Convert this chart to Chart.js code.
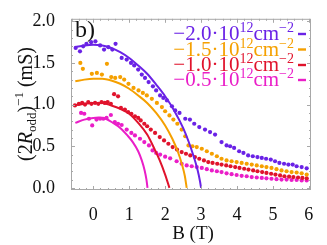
<!DOCTYPE html>
<html><head><meta charset="utf-8">
<script src="https://cdn.jsdelivr.net/npm/chart.js@4/dist/chart.umd.min.js"></script>
<style>html,body{margin:0;padding:0;background:#fff}#w{width:327px;height:245px}</style>
</head><body><div id="w"><canvas id="c" width="327" height="245"></canvas></div>
<script>
const seriesLabels = ['\u22122.0', '\u22121.5', '\u22121.0', '\u22120.5'];
const seriesColors = ['#6a22e6', '#f5a000', '#e0132c', '#ea1ec8'];
const xTickValues = [0, 1, 2, 3, 4, 5, 6];
const yTickValues = [0, 0.5, 1, 1.5, 2];

const dots20 = [[-0.49,1.68],[-0.37,1.64],[-0.28,1.70],[-0.19,1.73],[-0.06,1.75],[0.06,1.76],[0.19,1.71],[0.30,1.66],[0.42,1.69],[0.53,1.66],[0.62,1.73],[0.79,1.56],[0.93,1.54],[1.05,1.50],[1.14,1.47],[1.25,1.42],[1.35,1.36],[1.44,1.32],[1.54,1.27],[1.66,1.22],[1.75,1.17],[1.86,1.11],[1.95,1.08],[2.05,1.05],[2.19,0.98],[2.28,0.93],[2.40,0.90],[2.56,0.83],[2.69,0.82],[2.81,0.77],[2.95,0.73],[3.11,0.70],[3.25,0.67],[3.39,0.64],[3.57,0.55],[3.71,0.51],[3.81,0.50],[3.92,0.48],[4.06,0.44],[4.18,0.42],[4.31,0.39],[4.44,0.38],[4.57,0.37],[4.69,0.36],[4.81,0.35],[4.94,0.34],[5.06,0.32],[5.18,0.30],[5.31,0.29],[5.43,0.28],[5.55,0.28],[5.66,0.26],[5.80,0.25],[5.94,0.235]];
const dots15 = [[-0.36,1.50],[-0.29,1.43],[-0.04,1.37],[0.10,1.38],[0.24,1.36],[0.38,1.49],[0.50,1.33],[0.61,1.32],[0.75,1.33],[0.86,1.30],[0.98,1.25],[1.12,1.20],[1.26,1.17],[1.38,1.14],[1.49,1.11],[1.63,1.07],[1.77,1.02],[1.91,0.97],[2.00,0.92],[2.12,0.87],[2.23,0.82],[2.34,0.77],[2.46,0.70],[2.56,0.62],[2.65,0.51],[2.76,0.50],[2.88,0.49],[3.02,0.47],[3.16,0.44],[3.30,0.41],[3.44,0.38],[3.57,0.35],[3.71,0.33],[3.85,0.32],[3.99,0.31],[4.13,0.30],[4.27,0.29],[4.41,0.28],[4.55,0.27],[4.69,0.26],[4.82,0.25],[4.96,0.24],[5.10,0.225],[5.24,0.21],[5.38,0.20],[5.52,0.19],[5.66,0.185],[5.80,0.175],[5.94,0.16]];
const dots10 = [[-0.51,0.99],[-0.40,1.01],[-0.31,1.02],[-0.23,1.00],[-0.14,1.03],[-0.05,1.01],[0.05,1.02],[0.14,1.01],[0.23,1.03],[0.32,1.02],[0.40,1.03],[0.49,1.01],[0.58,1.125],[0.69,1.10],[0.77,0.96],[0.88,0.94],[0.97,0.91],[1.06,0.89],[1.16,0.86],[1.25,0.84],[1.32,0.81],[1.42,0.77],[1.50,0.74],[1.60,0.70],[1.72,0.66],[1.85,0.61],[1.97,0.57],[2.09,0.53],[2.21,0.49],[2.33,0.46],[2.46,0.43],[2.58,0.41],[2.70,0.39],[2.83,0.37],[2.95,0.35],[3.08,0.33],[3.20,0.31],[3.32,0.30],[3.45,0.29],[3.57,0.28],[3.70,0.27],[3.82,0.26],[3.95,0.25],[4.07,0.24],[4.20,0.23],[4.32,0.22],[4.45,0.21],[4.57,0.20],[4.70,0.19],[4.82,0.18],[4.95,0.17],[5.07,0.16],[5.20,0.15],[5.32,0.14],[5.45,0.135],[5.57,0.13],[5.70,0.125],[5.82,0.12],[5.94,0.115]];
const dots05 = [[-0.34,0.90],[-0.25,0.89],[-0.12,0.83],[-0.03,0.75],[0.09,0.82],[0.19,0.83],[0.28,0.83],[0.37,0.84],[0.49,0.875],[0.60,0.79],[0.69,0.77],[0.79,0.755],[0.93,0.70],[1.06,0.66],[1.16,0.63],[1.30,0.59],[1.42,0.55],[1.55,0.51],[1.65,0.45],[1.75,0.42],[1.86,0.40],[2.00,0.375],[2.14,0.355],[2.32,0.32],[2.46,0.29],[2.60,0.27],[2.74,0.26],[2.88,0.25],[3.02,0.24],[3.16,0.225],[3.30,0.21],[3.44,0.20],[3.57,0.19],[3.71,0.175],[3.85,0.165],[3.99,0.155],[4.13,0.145],[4.27,0.14],[4.41,0.13],[4.55,0.125],[4.69,0.12],[4.82,0.115],[4.96,0.11],[5.10,0.105],[5.24,0.10],[5.38,0.10],[5.52,0.095],[5.66,0.095],[5.80,0.09],[5.94,0.09]];

const fit20 = [[-0.5,1.69],[-0.25,1.71],[0,1.72],[0.25,1.71],[0.5,1.68],[0.75,1.63],[1.0,1.56],[1.25,1.47],[1.5,1.37],[1.75,1.24],[2.0,1.10],[2.25,0.93],[2.5,0.72],[2.65,0.56],[2.8,0.37],[2.9,0.22],[2.97,0.08],[3.0,0]];
const fit15 = [[-0.5,1.28],[-0.25,1.30],[0,1.31],[0.25,1.31],[0.5,1.29],[0.75,1.25],[1.0,1.19],[1.25,1.11],[1.5,1.02],[1.75,0.90],[2.0,0.75],[2.2,0.59],[2.35,0.44],[2.47,0.28],[2.55,0.14],[2.6,0]];
const fit10 = [[-0.5,0.99],[-0.25,1.01],[0,1.02],[0.25,1.02],[0.5,0.99],[0.75,0.95],[1.0,0.89],[1.25,0.78],[1.5,0.64],[1.7,0.47],[1.85,0.33],[2.0,0.16],[2.12,0]];
const fit05 = [[-0.5,0.78],[-0.25,0.82],[0,0.84],[0.15,0.845],[0.35,0.83],[0.55,0.78],[0.75,0.72],[0.95,0.63],[1.1,0.55],[1.25,0.44],[1.35,0.33],[1.43,0.21],[1.48,0.10],[1.51,0]];

const dotSets = [dots20, dots15, dots10, dots05];
const fitSets = [fit20, fit15, fit10, fit05];
const toXY = a => a.map(p => ({x: p[0], y: p[1]}));

const datasets = [];
fitSets.forEach((f, i) => datasets.push({data: toXY(f), showLine: true, borderColor: seriesColors[i], borderWidth: 2, pointRadius: 0, cubicInterpolationMode: 'monotone', fill: false}));
dotSets.forEach((d, i) => datasets.push({data: toXY(d), showLine: false, pointRadius: 2.1, pointBorderWidth: 0, backgroundColor: seriesColors[i], borderColor: seriesColors[i]}));

const SERIF = '"Liberation Serif", "DejaVu Serif", serif';

function richText(ctx, parts, x, y, measureOnly) {
  let cx = x;
  for (const p of parts) {
    ctx.font = (p.italic ? 'italic ' : '') + p.size + 'px ' + SERIF;
    const w = ctx.measureText(p.t).width;
    if (!measureOnly) ctx.fillText(p.t, cx, y + (p.dy || 0));
    cx += w + (p.gap || 0);
  }
  return cx - x;
}

const decor = {
  id: 'decor',
  afterDraw(chart) {
    const ctx = chart.ctx, a = chart.chartArea, xs = chart.scales.x, ys = chart.scales.y;
    ctx.save();
    ctx.strokeStyle = '#a8a8a8'; ctx.lineWidth = 1;
    ctx.strokeRect(a.left + 0.5, a.top + 0.5, a.right - a.left - 1, a.bottom - a.top - 1);
    ctx.beginPath();
    for (let v = -0.6; v <= 6.05; v += 0.2) {
      const r = Math.round(v * 5) / 5;
      const px = Math.round(xs.getPixelForValue(r)) + 0.5;
      if (px < a.left + 1 || px > a.right - 1) continue;
      const L = Math.abs(r - Math.round(r)) < 1e-6 ? 4 : 2;
      ctx.moveTo(px, a.bottom); ctx.lineTo(px, a.bottom - L);
      ctx.moveTo(px, a.top); ctx.lineTo(px, a.top + L);
    }
    for (let v = 0; v <= 2.001; v += 0.1) {
      const r = Math.round(v * 10) / 10;
      const py = Math.round(ys.getPixelForValue(r)) + 0.5;
      const L = Math.abs(r * 2 - Math.round(r * 2)) < 1e-6 ? 4 : 2;
      ctx.moveTo(a.left, py); ctx.lineTo(a.left + L, py);
      ctx.moveTo(a.right, py); ctx.lineTo(a.right - L, py);
    }
    ctx.stroke();

    ctx.fillStyle = '#111';
    ctx.textBaseline = 'alphabetic';
    ctx.font = '24px ' + SERIF;
    ctx.fillText('b)', a.left + 4, a.top + 18);

    // legend
    const rowY = [40, 55.5, 71, 86];
    seriesLabels.forEach((lab, i) => {
      const parts = [
        {t: lab + '\u00b710', size: 21},
        {t: '12', size: 14, dy: -8},
        {t: 'cm', size: 21},
        {t: '\u22122', size: 14, dy: -8}
      ];
      ctx.fillStyle = seriesColors[i];
      const w = richText(ctx, parts, 0, 0, true);
      const endX = 294;
      richText(ctx, parts, endX - w, rowY[i], false);
      ctx.strokeStyle = seriesColors[i]; ctx.lineWidth = 2.4;
      ctx.beginPath(); ctx.moveTo(298, rowY[i] - 6); ctx.lineTo(306, rowY[i] - 6); ctx.stroke();
    });

    // y title
    ctx.fillStyle = '#111';
    const tparts = [
      {t: '(2', size: 20},
      {t: 'R', size: 20, italic: true},
      {t: 'odd', size: 13, dy: 4},
      {t: ')', size: 20},
      {t: '\u22121', size: 13, dy: -9},
      {t: ' (mS)', size: 20}
    ];
    const tw = richText(ctx, tparts, 0, 0, true);
    ctx.translate(32, 104);
    ctx.rotate(-Math.PI / 2);
    richText(ctx, tparts, -tw / 2, 0, false);
    ctx.restore();

    ctx.save();
    ctx.fillStyle = '#111';
    ctx.font = '19px ' + SERIF;
    ctx.textAlign = 'center';
    ctx.fillText('B (T)', (a.left + a.right) / 2 + 2, 239);
    ctx.restore();
  }
};

new Chart(document.getElementById('c'), {
  type: 'scatter',
  data: {datasets},
  options: {
    responsive: false, animation: false, devicePixelRatio: 1,
    layout: {padding: {left: 0, right: 16, top: 10, bottom: 0}},
    plugins: {legend: {display: false}, tooltip: {enabled: false}},
    scales: {
      x: {
        type: 'linear', min: -0.62, max: 6.06,
        afterBuildTicks: s => { s.ticks = xTickValues.map(v => ({value: v})); },
        afterFit: s => { s.height = 55; },
        grid: {display: false}, border: {display: false},
        ticks: {color: '#111', font: {family: SERIF, size: 18}, padding: 6, maxRotation: 0, callback: v => String(v)}
      },
      y: {
        type: 'linear', min: -0.025, max: 2.03,
        afterBuildTicks: s => { s.ticks = yTickValues.map(v => ({value: v})); },
        afterFit: s => { s.width = 71; },
        grid: {display: false}, border: {display: false},
        ticks: {color: '#111', font: {family: SERIF, size: 18}, padding: 8, callback: v => Number(v).toFixed(1)}
      }
    }
  },
  plugins: [decor]
});
</script></body></html>
